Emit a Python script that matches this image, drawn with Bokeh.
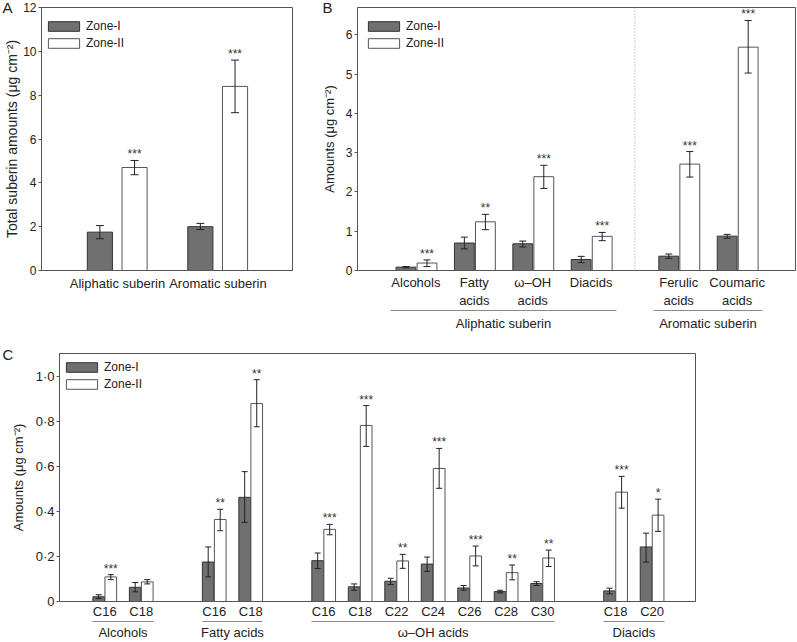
from bokeh.plotting import figure
from bokeh.models import (Range1d, FixedTicker, Whisker, TeeHead, Span, LinearAxis,
                          ColumnDataSource)
from bokeh.layouts import row, column
from bokeh.embed import file_html
from bokeh.resources import INLINE
from bokeh.core.properties import value

# ---------------- data ----------------
# Panel A
a_categories = ["Aliphatic suberin", "Aromatic suberin"]
a_zone1 = [1.75, 2.0]
a_zone1_lo = [1.45, 1.87]
a_zone1_hi = [2.05, 2.15]
a_zone2 = [4.7, 8.4]
a_zone2_lo = [4.37, 7.2]
a_zone2_hi = [5.02, 9.6]
a_stars = ["***", "***"]
a_yticks = [0, 2, 4, 6, 8, 10, 12]

# Panel B
b_categories = ["Alcohols", "Fatty\nacids", "\u03c9\u2013OH\nacids", "Diacids",
                "Ferulic\nacids", "Coumaric\nacids"]
b_groups = ["Aliphatic suberin"] * 4 + ["Aromatic suberin"] * 2
b_zone1 = [0.085, 0.70, 0.68, 0.28, 0.365, 0.875]
b_zone1_lo = [0.07, 0.55, 0.60, 0.20, 0.31, 0.82]
b_zone1_hi = [0.10, 0.85, 0.75, 0.36, 0.42, 0.92]
b_zone2 = [0.19, 1.24, 2.39, 0.87, 2.71, 5.69]
b_zone2_lo = [0.10, 1.04, 2.09, 0.76, 2.38, 5.03]
b_zone2_hi = [0.27, 1.43, 2.68, 0.97, 3.03, 6.37]
b_stars = ["***", "**", "***", "***", "***", "***"]
b_yticks = [0, 1, 2, 3, 4, 5, 6]

# Panel C
c_labels = ["C16", "C18", "C16", "C18", "C16", "C18", "C22", "C24", "C26", "C28", "C30",
            "C18", "C20"]
c_groups = (["Alcohols"] * 2 + ["Fatty acids"] * 2 + ["\u03c9\u2013OH acids"] * 7
            + ["Diacids"] * 2)
c_zone1 = [0.021, 0.063, 0.175, 0.462, 0.181, 0.065, 0.09, 0.166, 0.06, 0.044, 0.08,
           0.047, 0.242]
c_zone1_lo = [0.013, 0.043, 0.109, 0.351, 0.146, 0.05, 0.075, 0.134, 0.05, 0.038, 0.071,
              0.034, 0.175]
c_zone1_hi = [0.03, 0.084, 0.242, 0.576, 0.215, 0.078, 0.103, 0.197, 0.071, 0.05, 0.088,
              0.059, 0.303]
c_zone2 = [0.109, 0.087, 0.364, 0.878, 0.32, 0.781, 0.18, 0.59, 0.202, 0.128, 0.193,
           0.485, 0.383]
c_zone2_lo = [0.097, 0.078, 0.314, 0.775, 0.296, 0.688, 0.147, 0.502, 0.158, 0.096, 0.155,
              0.414, 0.311]
c_zone2_hi = [0.119, 0.097, 0.409, 0.984, 0.342, 0.869, 0.209, 0.679, 0.246, 0.162, 0.228,
              0.555, 0.454]
c_stars = ["***", "", "**", "**", "***", "***", "**", "***", "***", "**", "**", "***", "*"]
c_yticks = [0, 0.2, 0.4, 0.6, 0.8, 1.0]
c_ytick_labels = ["0", "0\u00b72", "0\u00b74", "0\u00b76", "0\u00b78", "1\u00b70"]

series_names = ["Zone-I", "Zone-II"]
panel_letters = ["A", "B", "C"]

# ---------------- style ----------------
FONT = "Liberation Sans"
Z1_FILL = "#707070"
Z2_FILL = "#ffffff"
Z1_LINE = "#333333"
Z2_LINE = "#555555"
FRAME = "#555555"
TXT = "#222222"
GROUP_LINE = "#8a8a8a"
YLAB = "Amounts (\u03bcg cm\u207b\u00b2)"


def positions(groups, gap):
    out, pos, prev = [], 1.0, None
    for g in groups:
        if prev is not None and g != prev:
            pos += gap
        out.append(pos)
        pos += 1.0
        prev = g
    return out


def make_fig(width, height, xr, yr, mb):
    p = figure(width=width, height=height, x_range=Range1d(*xr), y_range=Range1d(*yr),
               output_backend="svg", toolbar_location=None,
               min_border_left=mb[0], min_border_right=mb[1],
               min_border_top=mb[2], min_border_bottom=mb[3])
    p.grid.visible = False
    p.outline_line_color = FRAME
    p.outline_line_width = 1
    p.background_fill_color = "white"
    p.border_fill_color = "white"
    for ax in (p.xaxis, p.yaxis):
        ax.axis_line_color = FRAME
        ax.major_tick_line_color = FRAME
        ax.minor_tick_line_color = None
        ax.major_label_text_font = FONT
        ax.major_label_text_color = TXT
        ax.axis_label_text_font = FONT
        ax.axis_label_text_font_style = "normal"
        ax.axis_label_text_color = TXT
    p.xaxis.major_tick_line_color = None
    p.xaxis.major_tick_out = 0
    p.xaxis.major_tick_in = 0
    p.xaxis.major_label_text_font_size = "13px"
    p.xaxis.major_label_standoff = 5
    p.yaxis.major_tick_out = 3
    p.yaxis.major_tick_in = 0
    p.yaxis.major_label_standoff = 2
    p.yaxis.major_label_text_font_size = "12px"
    p.yaxis.axis_label_text_font_size = "13px"
    return p


def bars(p, xs, off, width, z1, z1lo, z1hi, z2, z2lo, z2hi, stars, cap):
    x1 = [x - off[0] for x in xs]
    x2 = [x + off[1] for x in xs]
    p.vbar(x=x1, top=z1, bottom=0, width=width, fill_color=Z1_FILL, line_color=Z1_LINE,
           line_width=1, legend_label=series_names[0])
    p.vbar(x=x2, top=z2, bottom=0, width=width, fill_color=Z2_FILL, line_color=Z2_LINE,
           line_width=1, legend_label=series_names[1])
    for xx, lo, hi in ((x1, z1lo, z1hi), (x2, z2lo, z2hi)):
        src = ColumnDataSource(dict(x=xx, lo=lo, hi=hi))
        w = Whisker(source=src, base="x", lower="lo", upper="hi", line_color=TXT,
                    line_width=1, level="overlay",
                    upper_head=TeeHead(size=cap, line_color=TXT, line_width=1),
                    lower_head=TeeHead(size=cap, line_color=TXT, line_width=1))
        p.add_layout(w)
    ssrc = ColumnDataSource(dict(x=x2, y=z2hi, s=stars))
    p.text(x="x", y="y", text="s", source=ssrc, text_align="center",
           text_baseline="bottom", text_font=value(FONT), text_font_size="12px",
           text_color="#333333", y_offset=1)


LG_ROW = 14      # legend row height
LG_GLYPH = 12    # legend glyph box height (drawn at 80 %)
LG_GAP = 3       # gap between legend rows


def style_legend(p, frame_h, dx, dy):
    """Place legend so that its top-left corner is dx, dy px inside the frame."""
    lg = p.legend[0]
    legend_h = 2 * LG_ROW + LG_GAP
    lg.location = (dx, frame_h - dy - legend_h)
    lg.border_line_color = None
    lg.background_fill_alpha = 0
    lg.glyph_width = 39
    lg.glyph_height = LG_GLYPH
    lg.label_height = LG_ROW
    lg.spacing = LG_GAP
    lg.margin = 0
    lg.padding = 0
    lg.label_standoff = 3
    lg.label_text_font = FONT
    lg.label_text_font_size = "12px"
    lg.label_text_color = TXT


def title_letter(p, text, offset, standoff):
    p.title.text = text
    p.title.align = "left"
    p.title.offset = offset
    p.title.standoff = standoff
    p.title.text_font = FONT
    p.title.text_font_size = "15px"
    p.title.text_font_style = "normal"
    p.title.text_color = TXT


def group_axes(p, xs, groups, half, fs, standoff):
    names = []
    for g in groups:
        if g not in names:
            names.append(g)
    centers = []
    for g in names:
        gx = [x for x, gg in zip(xs, groups) if gg == g]
        x0, x1 = min(gx) - half, max(gx) + half
        centers.append((x0 + x1) / 2)
        ax = LinearAxis(bounds=(x0, x1), ticker=FixedTicker(ticks=[]),
                        axis_line_color=GROUP_LINE, axis_line_width=1,
                        major_tick_line_color=None, minor_tick_line_color=None,
                        major_tick_out=0, major_tick_in=0, minor_tick_out=0,
                        minor_tick_in=0, major_label_standoff=0,
                        major_label_text_font_size="1px")
        p.add_layout(ax, "below")
    lab = LinearAxis(ticker=FixedTicker(ticks=centers),
                     major_label_overrides={c: g for c, g in zip(centers, names)},
                     axis_line_color=None, major_tick_line_color=None,
                     minor_tick_line_color=None, major_tick_out=0, major_tick_in=0,
                     minor_tick_out=0, minor_tick_in=0, major_label_standoff=standoff,
                     major_label_text_font=FONT, major_label_text_font_size=fs,
                     major_label_text_color=TXT, major_label_text_line_height=1.0)
    p.add_layout(lab, "below")


# ---------------- Panel A ----------------
A_W, A_H = 300, 334
A_MB = (41, 8, 7, 64)
a_fh = A_H - A_MB[2] - A_MB[3]
a_x = positions(a_categories, 0)
pA = make_fig(A_W, A_H, (0.244, 2.742), (0, a_yticks[-1]), A_MB)
bars(pA, a_x, (0.175, 0.17), 0.25, a_zone1, a_zone1_lo, a_zone1_hi,
     a_zone2, a_zone2_lo, a_zone2_hi, a_stars, 8)
pA.xaxis.ticker = FixedTicker(ticks=a_x)
pA.xaxis.major_label_overrides = {x: c for x, c in zip(a_x, a_categories)}
pA.xaxis.major_label_standoff = 5
pA.yaxis.ticker = FixedTicker(ticks=a_yticks)
pA.yaxis.axis_label = "Total suberin amounts (\u03bcg cm\u207b\u00b2)"
pA.yaxis.axis_label_text_font_size = "14px"
pA.yaxis.axis_label_standoff = 0
style_legend(pA, a_fh, 3, 12)
title_letter(pA, panel_letters[0], -39, -16)

# ---------------- Panel B ----------------
B_W, B_H = 496, 334
B_MB = (57, 1, 7, 64)
b_fh = B_H - B_MB[2] - B_MB[3]
b_x = positions(b_groups, 0.5)
b_ymax = 6.7
pB = make_fig(B_W, B_H, (0, 7.5), (0, b_ymax), B_MB)
bars(pB, b_x, (0.17, 0.19), 0.34, b_zone1, b_zone1_lo, b_zone1_hi,
     b_zone2, b_zone2_lo, b_zone2_hi, b_stars, 7)
pB.xaxis.ticker = FixedTicker(ticks=b_x)
pB.xaxis.major_label_overrides = {x: c for x, c in zip(b_x, b_categories)}
pB.xaxis.major_label_standoff = 4
pB.xaxis.major_label_text_line_height = 1.2
pB.yaxis.ticker = FixedTicker(ticks=b_yticks)
pB.yaxis.axis_label = YLAB
pB.yaxis.axis_label_standoff = 6
style_legend(pB, b_fh, 7, 12)
title_letter(pB, panel_letters[1], -35, -16)
split = [(b_x[i] + b_x[i + 1]) / 2 for i in range(len(b_x) - 1)
         if b_groups[i] != b_groups[i + 1]]
for s in split:
    pB.add_layout(Span(location=s, dimension="height", line_color="#a0a0a0",
                       line_dash="1 2", line_width=1))
group_axes(pB, b_x, b_groups, 0.44, "13px", 5)

# ---------------- Panel C ----------------
C_W, C_H = 700, 308
C_MB = (59, 5, 19, 41)
c_fh = C_H - C_MB[2] - C_MB[3]
c_x = positions(c_groups, 1)
c_ymax = 1.1
pC = make_fig(C_W, C_H, (-0.24, 17.19), (0, c_ymax), C_MB)
bars(pC, c_x, (0.165, 0.165), 0.32, c_zone1, c_zone1_lo, c_zone1_hi,
     c_zone2, c_zone2_lo, c_zone2_hi, c_stars, 6)
pC.xaxis.ticker = FixedTicker(ticks=c_x)
pC.xaxis.major_label_overrides = {x: c for x, c in zip(c_x, c_labels)}
pC.xaxis.major_label_standoff = 2
pC.xaxis.major_label_text_line_height = 1.45
pC.yaxis.ticker = FixedTicker(ticks=c_yticks)
pC.yaxis.major_label_overrides = {t: l for t, l in zip(c_yticks, c_ytick_labels)}
pC.yaxis.major_label_text_font_size = "13px"
pC.yaxis.axis_label = YLAB
pC.yaxis.axis_label_standoff = 7
style_legend(pC, c_fh, 3, 7)
group_axes(pC, c_x, c_groups, 0.33, "13px", 3)
title_letter(pC, panel_letters[2], -57, -19)

layout = column(row(pA, pB), pC)
open("out.html", "w").write(file_html(layout, INLINE))
